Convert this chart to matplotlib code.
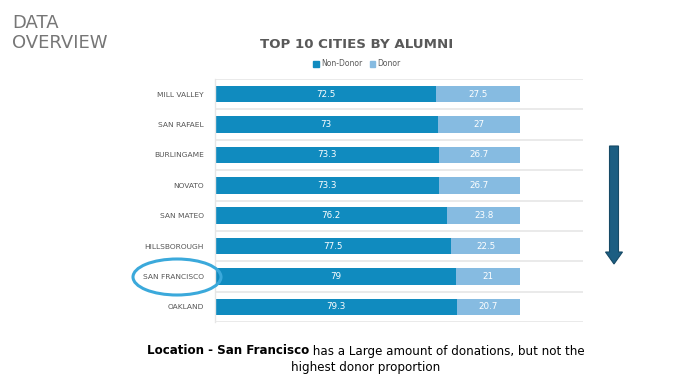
import matplotlib
matplotlib.use('Agg')
import matplotlib.pyplot as plt
from matplotlib.patches import Ellipse, FancyArrow, Patch

cities = ['MILL VALLEY', 'SAN RAFAEL', 'BURLINGAME', 'NOVATO',
          'SAN MATEO', 'HILLSBOROUGH', 'SAN FRANCISCO', 'OAKLAND']
non_donor = [72.5, 73, 73.3, 73.3, 76.2, 77.5, 79, 79.3]
donor = [27.5, 27, 26.7, 26.7, 23.8, 22.5, 21, 20.7]

c_non = '#108BBF'
c_don = '#86BBE1'

W, H = 688, 388
fig = plt.figure(figsize=(W / 100, H / 100), dpi=100)

# chart area in pixel coords -> figure fraction
left, right, top, bottom = 215, 583, 79, 322
ax = fig.add_axes([left / W, 1 - bottom / H, (right - left) / W, (bottom - top) / H])

ypos = list(range(len(cities)))
ax.barh(ypos, non_donor, height=0.54, color=c_non)
ax.barh(ypos, donor, left=non_donor, height=0.54, color=c_don)

for y, a, b in zip(ypos, non_donor, donor):
    ax.text(a / 2, y, f'{a:g}', ha='center', va='center', color='white', fontsize=6.3)
    ax.text(a + b / 2, y, f'{b:g}', ha='center', va='center', color='white', fontsize=6.3)

ax.set_xlim(0, 100 * (right - left) / (520 - left))
ax.set_ylim(len(cities) - 0.5, -0.5)
ax.set_yticks(ypos)
ax.set_yticklabels(cities, fontsize=5.4, color='#555555')
ax.tick_params(axis='y', length=0, pad=8)
ax.set_xticks([])
for k in range(len(cities) + 1):
    ax.axhline(k - 0.5, color='#E6E6E6', lw=1.2, zorder=0)
for s in ['top', 'right', 'bottom']:
    ax.spines[s].set_visible(False)
ax.spines['left'].set_color('#E6E6E6')
ax.spines['left'].set_linewidth(1.0)

# title and legend
fig.text(357 / W, 1 - 44 / H, 'TOP 10 CITIES BY ALUMNI', ha='center', va='center',
         fontsize=9.6, fontweight='bold', color='#595959')
handles = [Patch(color=c_non, label='Non-Donor'), Patch(color=c_don, label='Donor')]
fig.legend(handles=handles, loc='center', bbox_to_anchor=(357 / W, 1 - 64 / H), ncol=2,
           frameon=False, fontsize=5.5, handlelength=0.7, handleheight=0.7,
           handletextpad=0.3, columnspacing=1.0, labelcolor='#595959')

# slide heading
fig.text(12 / W, 1 - 14 / H, 'DATA\nOVERVIEW', ha='left', va='top', fontsize=13,
         color='#767676', linespacing=1.15)

# highlight circle around San Francisco
ell = Ellipse((177 / W, 1 - 277 / H), 88 / W, 36 / H, transform=fig.transFigure,
              fill=False, edgecolor='#3BA9DB', lw=2.2)
fig.add_artist(ell)

# down arrow
arr = FancyArrow(614 / W, 1 - 146 / H, 0, -(118 / H), width=9 / W, head_width=17 / W,
                 head_length=12 / H, length_includes_head=True, transform=fig.transFigure,
                 facecolor='#1C5E82', edgecolor='#164A66', lw=0.8)
fig.add_artist(arr)

# caption
fs = 8.6
fig.canvas.draw()
r = fig.canvas.get_renderer()
b1 = fig.text(0, 1 - 351 / H, 'Location - San Francisco', ha='left', va='center',
              fontsize=fs, fontweight='bold', color='black')
n1 = fig.text(0, 1 - 351 / H, ' has a Large amount of donations, but not the',
              ha='left', va='center', fontsize=fs, color='black')
w1 = b1.get_window_extent(r).width
w2 = n1.get_window_extent(r).width
x0 = 366 - (w1 + w2) / 2
b1.set_x(x0 / W)
n1.set_x((x0 + w1) / W)
fig.text(366 / W, 1 - 367 / H, 'highest donor proportion', ha='center', va='center',
         fontsize=fs, color='black')

fig.savefig('out.png', dpi=100)
